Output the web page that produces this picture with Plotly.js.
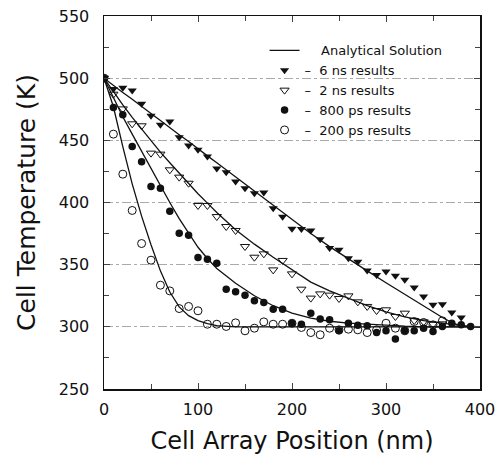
<!DOCTYPE html>
<html><head><meta charset="utf-8">
<script src="https://cdn.plot.ly/plotly-3.0.1.min.js"></script>
<style>html,body{margin:0;padding:0;background:#fff}#chart{width:500px;height:461px}</style>
</head><body><div id="chart"></div>
<script>
// Analytical solution curves
const curveX = [0,10,20,30,40,50,60,70,80,90,100,110,120,140,160,180,200,220,240,260,280,300,320,340,360,370,380,400];
const curve6ns = [500,494,488.5,483,477,471.5,466,460,454.5,449,443,437.5,432,420.5,409,397.5,386,375,364.5,354.5,345,335.5,326,316.5,307.5,303.5,300.5,300];
const curve2ns = [500,489,478.5,468.5,459,449.5,440.5,432,423.5,415,407,399.5,392,378,366.5,356,346,336,329,323,317,312,308,305,303,302,301,300];
const curve800ps = [500,484,469,455,441,427,413,400,387,375,364,355,347,335,325,317,311,307,304.5,303,302,301,300.5,300,300,300,300,300];
const curve200ps = [500,477,445,415,389,366,345,328,316,309,305,302.5,301,300,300,300,300,300,300,300,300,300,300,300,300,300,300,300];

// Simulation results
const x6ns = [0,10,20,30,40,50,60,70,80,90,100,110,120,130,140,150,160,170,180,190,200,210,220,230,240,250,260,270,280,290,300,310,320,330,340,350,360,370,380];
const t6ns = [500,491.2,492.2,490.1,479.4,469.7,462.5,465.1,452.5,445.8,442.4,437.0,427.3,424.4,416.9,411.5,407.5,408.0,395.4,388.5,378.8,378.6,377.5,370.5,363.5,361.9,355.2,352.3,345.3,341.6,344.5,341.0,337.8,331.6,324.4,317.7,318.2,311.5,307.5];
const x2ns = [0,10,20,30,40,50,60,70,80,90,100,110,120,130,140,150,160,170,180,190,200,210,220,230,240,250,260,270,280,290,300,310,320,330,340,350,360];
const t2ns = [500,487.1,475.3,463.3,461.7,439.7,438.9,426.3,420.4,415.5,397.6,397.6,388.7,380.7,377.5,364.6,356.0,358.7,345.8,353.4,342.6,330.3,323.1,326.5,325.5,322.8,324.9,320.1,316.4,313.1,313.7,308.3,311.0,305.1,304.0,302.1,302.4];
const x800ps = [0,10,20,30,40,50,60,70,80,90,100,110,120,130,140,150,160,170,180,190,200,210,220,230,240,250,260,270,280,290,300,310,320,330,340,350,360,370,380,390];
const t800ps = [500,476.4,470.5,445.0,432.7,412.9,411.5,393.0,375.3,373.7,355.8,354.4,351.2,330.3,328.2,325.5,320.9,319.6,314.2,314.2,302.9,302.1,311.0,306.2,305.6,296.8,302.9,301.3,300.8,295.4,296.8,290.2,296.8,296.8,298.9,296.2,300.3,302.9,301.6,300.3];
const x200ps = [0,10,20,30,40,50,60,70,80,90,100,110,120,130,140,150,160,170,180,190,200,210,220,230,240,250,260,270,280,290,300,310,320,330,340,350,360];
const t200ps = [500,455.0,422.8,393.6,367.0,353.6,333.5,328.9,314.7,316.4,312.9,302.1,302.1,300.3,303.2,296.8,298.9,304.0,302.1,302.1,302.9,299.5,295.4,293.6,298.9,297.6,298.1,297.6,295.4,297.6,302.9,298.9,296.8,304.3,303.5,301.6,304.8];

const NB = '\u00A0';
const lineStyle = {color:'#111', width:1.3};
const traces = [
  {x:curveX, y:curve6ns, mode:'lines', line:lineStyle, name:NB+NB+NB+NB+'Analytical Solution', showlegend:true},
  {x:curveX, y:curve2ns, mode:'lines', line:lineStyle, showlegend:false},
  {x:curveX, y:curve800ps, mode:'lines', line:lineStyle, showlegend:false},
  {x:curveX, y:curve200ps, mode:'lines', line:lineStyle, showlegend:false},
  {x:x6ns, y:t6ns, mode:'markers', name:'–'+NB+NB+'6 ns results',
   marker:{symbol:'triangle-down', size:8, color:'#111'}},
  {x:x2ns, y:t2ns, mode:'markers', name:'–'+NB+NB+'2 ns results',
   marker:{symbol:'triangle-down-open', size:8, color:'#111', line:{width:1}}},
  {x:x800ps, y:t800ps, mode:'markers', name:'–'+NB+NB+'800 ps results',
   marker:{symbol:'circle', size:7.5, color:'#111'}},
  {x:x200ps, y:t200ps, mode:'markers', name:'–'+NB+NB+'200 ps results',
   marker:{symbol:'circle-open', size:8, color:'#111', line:{width:1}}}
];

const layout = {
  width:500, height:461,
  margin:{l:104, r:20, t:16, b:72},
  paper_bgcolor:'#fff', plot_bgcolor:'#fff',
  font:{family:'DejaVu Sans, sans-serif', color:'#111'},
  showlegend:true,
  legend:{x:0.427, y:0.948, xanchor:'left', yanchor:'top', bgcolor:'rgba(0,0,0,0)',
          font:{size:13, color:'#111'}, tracegroupgap:0, itemwidth:30},
  xaxis:{range:[0,400], dtick:100, tick0:0, ticks:'inside', ticklen:6, mirror:'ticks',
         showline:true, linecolor:'#111', linewidth:1.5, showgrid:false, zeroline:false,
         tickfont:{size:16}, ticklabelstandoff:5,
         minor:{dtick:50, ticks:'inside', ticklen:5, showgrid:false},
         title:{text:'Cell Array Position (nm)', font:{size:24}, standoff:14}},
  yaxis:{range:[250,550], dtick:50, tick0:250, ticks:'inside', ticklen:6, mirror:'ticks',
         showline:true, linecolor:'#111', linewidth:1.5, zeroline:false,
         showgrid:true, gridcolor:'#aaa', griddash:'dashdot', gridwidth:1,
         tickfont:{size:16}, ticklabelstandoff:10,
         minor:{dtick:25, ticks:'inside', ticklen:5, showgrid:false},
         title:{text:'Cell Temperature (K)', font:{size:25}, standoff:16}}
};
Plotly.newPlot('chart', traces, layout, {staticPlot:true, displayModeBar:false});
</script>
</body></html>
